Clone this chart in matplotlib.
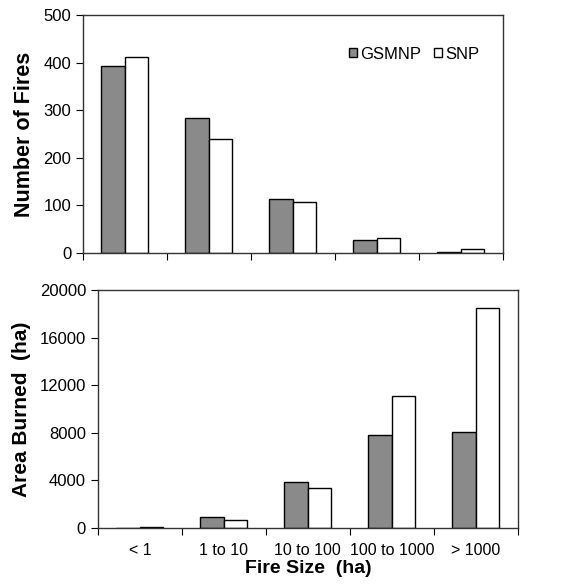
import matplotlib
matplotlib.use("Agg")
import matplotlib.pyplot as plt
import numpy as np

plt.rcParams['font.family'] = ['Liberation Sans', 'DejaVu Sans']

# Data
size_classes = ["< 1", "1 to 10", "10 to 100", "100 to 1000", "> 1000"]
fires_gsmnp = [392, 283, 114, 27, 2]
fires_snp = [411, 239, 107, 32, 9]
area_gsmnp = [20, 920, 3860, 7830, 8060]
area_snp = [60, 700, 3390, 11130, 18490]

gray = "#8a8a8a"
bar_w = 0.28
x = np.arange(len(size_classes))

fig = plt.figure(figsize=(5.76, 5.85), dpi=100)
ax1 = fig.add_axes([0.144, 0.5675, 0.729, 0.4068])
ax2 = fig.add_axes([0.170, 0.0974, 0.729, 0.4068])


def style(ax):
    for sp in ax.spines.values():
        sp.set_linewidth(1.0)
        sp.set_color("#333333")
    ax.set_xlim(-0.5, len(size_classes) - 0.5)
    ax.set_xticks(np.arange(len(size_classes) + 1) - 0.5)
    ax.tick_params(axis="x", direction="out", length=5, labelbottom=False)
    ax.tick_params(axis="y", direction="out", length=5, labelsize=12)
    ax.set_xticks(x, minor=True)
    ax.tick_params(axis="x", which="minor", length=0)


# top panel
ax1.bar(x - bar_w / 2, fires_gsmnp, bar_w, color=gray, edgecolor="black",
        linewidth=1.0, label="GSMNP")
ax1.bar(x + bar_w / 2, fires_snp, bar_w, color="white", edgecolor="black",
        linewidth=1.0, label="SNP")
style(ax1)
ax1.set_ylim(0, 500)
ax1.set_yticks(range(0, 501, 100))
ax1.set_ylabel("Number of Fires", fontsize=15.5, fontweight="bold", labelpad=6)
ax1.legend(loc="upper right", bbox_to_anchor=(0.98, 0.93), ncol=2, frameon=False,
           fontsize=12, handlelength=0.45, handleheight=0.45, handletextpad=0.2,
           columnspacing=0.8)

# bottom panel
ax2.bar(x - bar_w / 2, area_gsmnp, bar_w, color=gray, edgecolor="black",
        linewidth=1.0)
ax2.bar(x + bar_w / 2, area_snp, bar_w, color="white", edgecolor="black",
        linewidth=1.0)
style(ax2)
ax2.set_ylim(0, 20000)
ax2.set_yticks(range(0, 20001, 4000))
ax2.set_xticklabels(size_classes, minor=True)
ax2.tick_params(axis="x", which="minor", labelbottom=True, labelsize=11.5, pad=11)
ax2.set_ylabel("Area Burned  (ha)", fontsize=15, fontweight="bold", labelpad=6)
ax2.set_xlabel("Fire Size  (ha)", fontsize=14, fontweight="bold", labelpad=1)

fig.savefig("out.png", dpi=100)
